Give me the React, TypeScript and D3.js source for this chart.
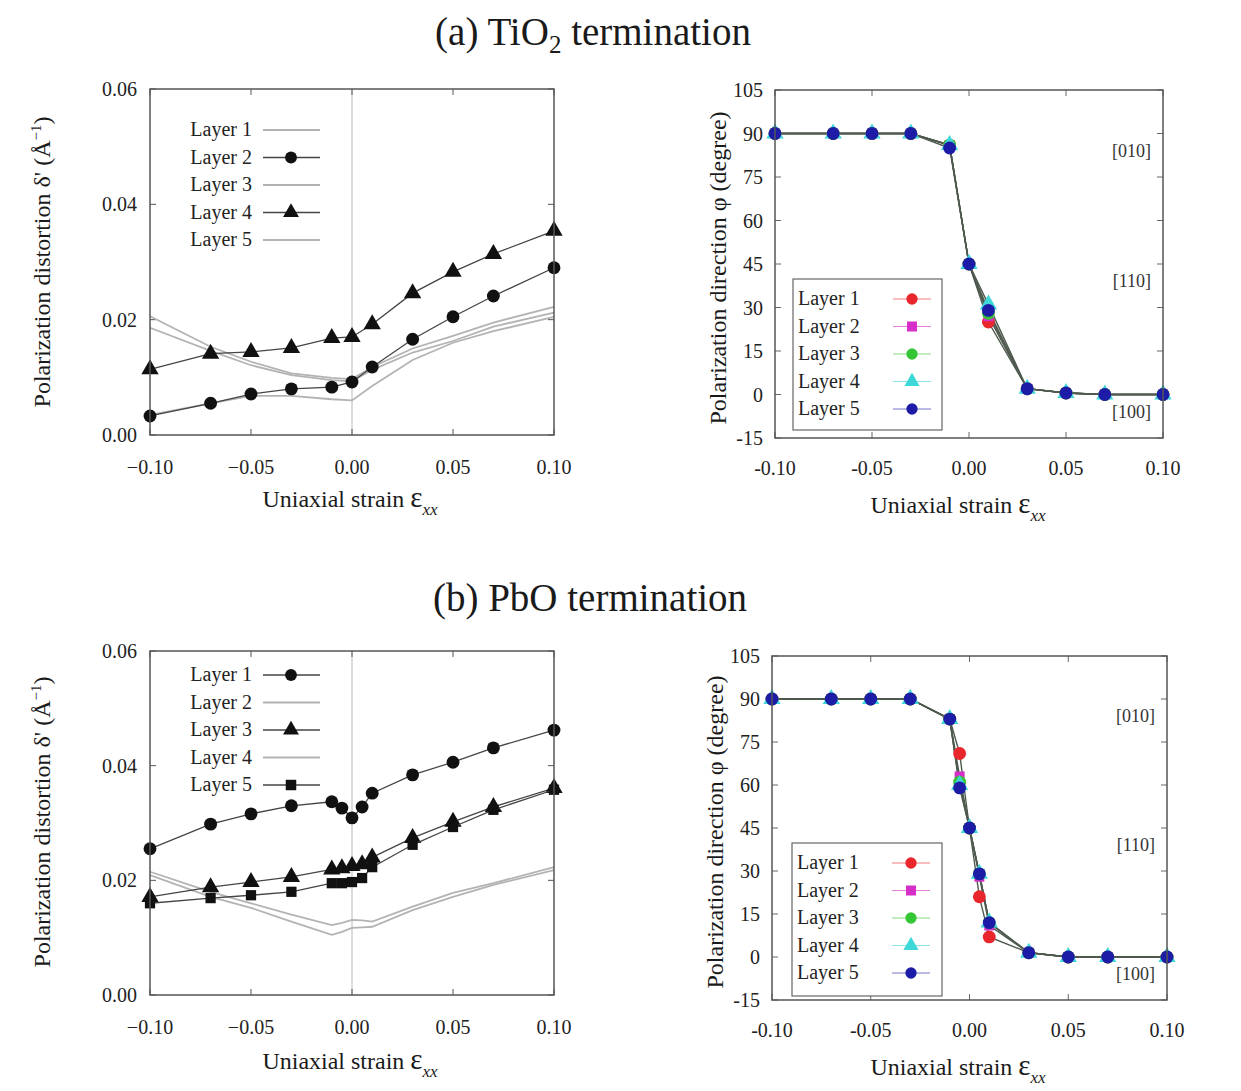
import React from "react";
import * as d3 from "d3";

// strain points
const strainA = [-0.1, -0.07, -0.05, -0.03, -0.01, 0.0, 0.01, 0.03, 0.05, 0.07, 0.1];
const strainB = [-0.1, -0.07, -0.05, -0.03, -0.01, -0.005, 0.0, 0.005, 0.01, 0.03, 0.05, 0.07, 0.1];

const layerNames = ["Layer 1", "Layer 2", "Layer 3", "Layer 4", "Layer 5"];

// (a) TiO2 termination, polarization distortion
const distA1 = [0.0206, 0.0153, 0.0127, 0.0107, 0.0099, 0.0097, 0.0118, 0.015, 0.0172, 0.0195, 0.0222];
const distA2 = [0.0033, 0.0055, 0.0071, 0.008, 0.0083, 0.0092, 0.0118, 0.0166, 0.0205, 0.0241, 0.029];
const distA3 = [0.0186, 0.0146, 0.0121, 0.0104, 0.0095, 0.0093, 0.0113, 0.0143, 0.0163, 0.0188, 0.0212];
const distA4 = [0.0114, 0.0141, 0.0144, 0.0151, 0.0168, 0.017, 0.0192, 0.0246, 0.0283, 0.0314, 0.0354];
const distA5 = [0.0035, 0.0055, 0.0068, 0.0068, 0.0062, 0.006, 0.0085, 0.013, 0.016, 0.018, 0.0205];
const markersA = [null, "circle", null, "triangle", null];

// (a) polarization direction
const angA1 = [90, 90, 90, 90, 86, 45, 25, 2, 0.5, 0, 0];
const angA2 = [90, 90, 90, 90, 86, 45, 27, 2, 0.5, 0, 0];
const angA3 = [90, 90, 90, 90, 86, 45, 28, 2, 0.5, 0, 0];
const angA4 = [90, 90, 90, 90, 86, 45, 31, 2, 0.5, 0, 0];
const angA5 = [90, 90, 90, 90, 85, 45, 29, 2, 0.5, 0, 0];

// (b) PbO termination, polarization distortion
const distB1 = [0.0255, 0.0298, 0.0316, 0.033, 0.0337, 0.0326, 0.0309, 0.0328, 0.0352, 0.0384, 0.0406, 0.0431, 0.0462];
const distB2 = [0.0215, 0.018, 0.016, 0.014, 0.0122, 0.0126, 0.0131, 0.013, 0.0128, 0.0154, 0.0178, 0.0195, 0.0223];
const distB3 = [0.0171, 0.0188, 0.0197, 0.0206, 0.0219, 0.0221, 0.0225, 0.0228, 0.024, 0.0274, 0.0302, 0.0328, 0.0361];
const distB4 = [0.0209, 0.0171, 0.0152, 0.0128, 0.0105, 0.011, 0.0117, 0.0118, 0.0119, 0.0148, 0.0171, 0.0192, 0.0218];
const distB5 = [0.016, 0.0169, 0.0174, 0.018, 0.0195, 0.0195, 0.0197, 0.0204, 0.0223, 0.0262, 0.0293, 0.0323, 0.0358];
const markersB = ["circle", null, "triangle", null, "square"];

// (b) polarization direction
const angB1 = [90, 90, 90, 90, 83, 71, 45, 21, 7, 1.5, 0, 0, 0];
const angB2 = [90, 90, 90, 90, 83, 63, 45, 28, 11, 1.5, 0, 0, 0];
const angB3 = [90, 90, 90, 90, 83, 61, 45, 29, 12, 1.5, 0, 0, 0];
const angB4 = [90, 90, 90, 90, 83, 60, 45, 29, 12, 1.5, 0, 0, 0];
const angB5 = [90, 90, 90, 90, 83, 59, 45, 29, 12, 1.5, 0, 0, 0];

const dirColors = ["#e8262b", "#d62fc8", "#35c635", "#3fd8d8", "#1c1ca6"];
const dirMarkers = ["circle", "square", "circle", "triangle", "circle"];

const distTicks = [0, 0.02, 0.04, 0.06];
const angTicks = [-15, 0, 15, 30, 45, 60, 75, 90, 105];
const strainTicks = [-0.1, -0.05, 0, 0.05, 0.1];

const FONT = "'Liberation Serif', 'DejaVu Serif', serif";
const TICK = 20;

type Box = { left: number; right: number; top: number; bottom: number };

const symbolType = (m: string) =>
  m === "triangle" ? d3.symbolTriangle : m === "square" ? d3.symbolSquare : d3.symbolCircle;
const sym = (m: string, size: number) => d3.symbol().type(symbolType(m)).size(size)() as string;

function XLabel({ cx, y }: { cx: number; y: number }) {
  return (
    <text x={cx} y={y} textAnchor="middle" fontFamily={FONT} fontSize={24} fill="#1a1a1a">
      Uniaxial strain{"  "}
      <tspan fontSize={29}>ε</tspan>
      <tspan fontStyle="italic" fontSize={17} dy={8}>xx</tspan>
    </text>
  );
}

function DistortionPanel({ box, strain, values, markers, legendTop }: any) {
  const x = d3.scaleLinear().domain([-0.1, 0.1]).range([box.left, box.right]);
  const y = d3.scaleLinear().domain([0, 0.06]).range([box.bottom, box.top]);
  const line = d3.line<number>().x((_, i) => x(strain[i])).y((d) => y(d));
  const order = values.map((_: any, i: number) => i).sort((a: number, b: number) => (markers[a] ? 1 : 0) - (markers[b] ? 1 : 0));
  const fmt = d3.format(".2f"); // uses the unicode minus like the reference
  return (
    <g>
      <line x1={x(0)} x2={x(0)} y1={box.top} y2={box.bottom} stroke="#dcdcdc" strokeWidth={2} />
      {distTicks.map((t) => (
        <g key={t}>
          <line x1={box.left} x2={box.left + 6} y1={y(t)} y2={y(t)} stroke="#555" />
          <line x1={box.right} x2={box.right - 6} y1={y(t)} y2={y(t)} stroke="#555" />
          <text x={box.left - 13} y={y(t) + 7} textAnchor="end" fontFamily={FONT} fontSize={TICK} fill="#222">
            {fmt(t)}
          </text>
        </g>
      ))}
      {strainTicks.map((t) => (
        <g key={t}>
          <line x1={x(t)} x2={x(t)} y1={box.bottom} y2={box.bottom - 6} stroke="#555" />
          <line x1={x(t)} x2={x(t)} y1={box.top} y2={box.top + 6} stroke="#555" />
          <text x={x(t)} y={box.bottom + 39} textAnchor="middle" fontFamily={FONT} fontSize={TICK} fill="#222">
            {fmt(t)}
          </text>
        </g>
      ))}
      {order.map((i: number) => (
        <g key={i}>
          <path d={line(values[i]) as string} fill="none" stroke={markers[i] ? "#444" : "#b3b3b3"} strokeWidth={markers[i] ? 1.3 : 1.8} />
          {markers[i] &&
            values[i].map((v: number, j: number) => (
              <path key={j} transform={`translate(${x(strain[j])},${y(v)})`} d={sym(markers[i], markers[i] === "square" ? 105 : 130)} fill="#111" />
            ))}
        </g>
      ))}
      <rect x={box.left} y={box.top} width={box.right - box.left} height={box.bottom - box.top} fill="none" stroke="#555" strokeWidth={1.5} />
      {layerNames.map((n, i) => {
        const ly = legendTop + i * 27.5;
        return (
          <g key={n}>
            <text x={252} y={ly + 6} textAnchor="end" fontFamily={FONT} fontSize={20} fill="#222">
              {n}
            </text>
            <line x1={263} x2={320} y1={ly} y2={ly} stroke={markers[i] ? "#444" : "#b3b3b3"} strokeWidth={markers[i] ? 1.3 : 1.8} />
            {markers[i] && <path transform={`translate(291,${ly})`} d={sym(markers[i], 110)} fill="#111" />}
          </g>
        );
      })}
    </g>
  );
}

function DirectionPanel({ box, strain, values, legendBox, dirLabels }: any) {
  const x = d3.scaleLinear().domain([-0.1, 0.1]).range([box.left, box.right]);
  const y = d3.scaleLinear().domain([-15, 105]).range([box.bottom, box.top]);
  const line = d3.line<number>().x((_, i) => x(strain[i])).y((d) => y(d));
  const fmt = (v: number) => d3.format(".2f")(v).replace("−", "-");
  return (
    <g>
      {angTicks.map((t) => (
        <g key={t}>
          <line x1={box.left} x2={box.left + 6} y1={y(t)} y2={y(t)} stroke="#666" />
          <line x1={box.right} x2={box.right - 6} y1={y(t)} y2={y(t)} stroke="#666" />
          <text x={box.left - 12} y={y(t) + 7} textAnchor="end" fontFamily={FONT} fontSize={TICK} fill="#222">
            {t}
          </text>
        </g>
      ))}
      {strainTicks.map((t) => (
        <g key={t}>
          <line x1={x(t)} x2={x(t)} y1={box.bottom} y2={box.bottom - 6} stroke="#666" />
          <line x1={x(t)} x2={x(t)} y1={box.top} y2={box.top + 6} stroke="#666" />
          <text x={x(t)} y={box.bottom + 37} textAnchor="middle" fontFamily={FONT} fontSize={TICK} fill="#222">
            {fmt(t)}
          </text>
        </g>
      ))}
      {values.map((v: number[], i: number) => (
        <path key={"l" + i} d={line(v) as string} fill="none" stroke="#4f5a4f" strokeWidth={1.4} />
      ))}
      {values.map((v: number[], i: number) => (
        <g key={"m" + i}>
          {v.map((d, j) => (
            <path key={j} transform={`translate(${x(strain[j])},${y(d)})`} d={sym(dirMarkers[i], dirMarkers[i] === "square" ? 100 : 130)} fill={dirColors[i]} />
          ))}
        </g>
      ))}
      <rect x={box.left} y={box.top} width={box.right - box.left} height={box.bottom - box.top} fill="none" stroke="#555" strokeWidth={1.5} />
      <rect x={legendBox.left} y={legendBox.top} width={legendBox.width} height={legendBox.height} fill="#fff" stroke="#666" strokeWidth={1.2} />
      {layerNames.map((n, i) => {
        const ly = legendBox.top + 20 + i * 27.5;
        return (
          <g key={n}>
            <text x={legendBox.left + 5} y={ly + 6} fontFamily={FONT} fontSize={20} fill="#222">
              {n}
            </text>
            <line x1={legendBox.left + 100} x2={legendBox.left + 138} y1={ly} y2={ly} stroke={dirColors[i]} strokeWidth={1.2} opacity={0.6} />
            <path transform={`translate(${legendBox.left + 119},${ly})`} d={sym(dirMarkers[i], 100)} fill={dirColors[i]} />
          </g>
        );
      })}
      {dirLabels.map((l: any) => (
        <text key={l.text} x={box.right - 12} y={y(l.at) + 6} textAnchor="end" fontFamily={FONT} fontSize={18} fill="#333">
          {l.text}
        </text>
      ))}
    </g>
  );
}

const boxAL: Box = { left: 150, right: 554, top: 89, bottom: 435 };
const boxAR: Box = { left: 775, right: 1163, top: 90, bottom: 438 };
const boxBL: Box = { left: 150, right: 554, top: 651, bottom: 995 };
const boxBR: Box = { left: 772, right: 1167, top: 656, bottom: 1000 };

export default function App() {
  const distYLabel = (cx: number, cy: number) => (
    <text transform={`translate(${cx},${cy}) rotate(-90)`} textAnchor="middle" fontFamily={FONT} fontSize={24} fill="#1a1a1a">
      Polarization distortion δ' (Å
      <tspan fontSize={15} dy={-9}>−1</tspan>
      <tspan dy={9}>)</tspan>
    </text>
  );
  const dirYLabel = (cx: number, cy: number) => (
    <text transform={`translate(${cx},${cy}) rotate(-90)`} textAnchor="middle" fontFamily={FONT} fontSize={24} fill="#1a1a1a">
      Polarization direction φ{"  "}(degree)
    </text>
  );
  return (
    <svg width={1241} height={1091} style={{ position: "absolute", left: 0, top: 0, background: "#fff" }}>
      <text x={593} y={45} textAnchor="middle" fontFamily={FONT} fontSize={39} fill="#1a1a1a">
        (a) TiO<tspan fontSize={25} dy={8}>2</tspan>
        <tspan dy={-8}> termination</tspan>
      </text>
      <text x={590} y={611} textAnchor="middle" fontFamily={FONT} fontSize={39} fill="#1a1a1a">
        (b) PbO termination
      </text>

      {distYLabel(50, 262)}
      {dirYLabel(726, 268)}
      {distYLabel(50, 822)}
      {dirYLabel(723, 832)}

      <DistortionPanel box={boxAL} strain={strainA} values={[distA1, distA2, distA3, distA4, distA5]} markers={markersA} legendTop={130} />
      <DirectionPanel
        box={boxAR}
        strain={strainA}
        values={[angA1, angA2, angA3, angA4, angA5]}
        legendBox={{ left: 793, top: 279, width: 149, height: 151 }}
        dirLabels={[{ text: "[010]", at: 84 }, { text: "[110]", at: 39 }, { text: "[100]", at: -6 }]}
      />
      <DistortionPanel box={boxBL} strain={strainB} values={[distB1, distB2, distB3, distB4, distB5]} markers={markersB} legendTop={675} />
      <DirectionPanel
        box={boxBR}
        strain={strainB}
        values={[angB1, angB2, angB3, angB4, angB5]}
        legendBox={{ left: 792, top: 843, width: 150, height: 153 }}
        dirLabels={[{ text: "[010]", at: 84 }, { text: "[110]", at: 39 }, { text: "[100]", at: -6 }]}
      />

      <XLabel cx={350} y={507} />
      <XLabel cx={958} y={513} />
      <XLabel cx={350} y={1069} />
      <XLabel cx={958} y={1075} />
    </svg>
  );
}
